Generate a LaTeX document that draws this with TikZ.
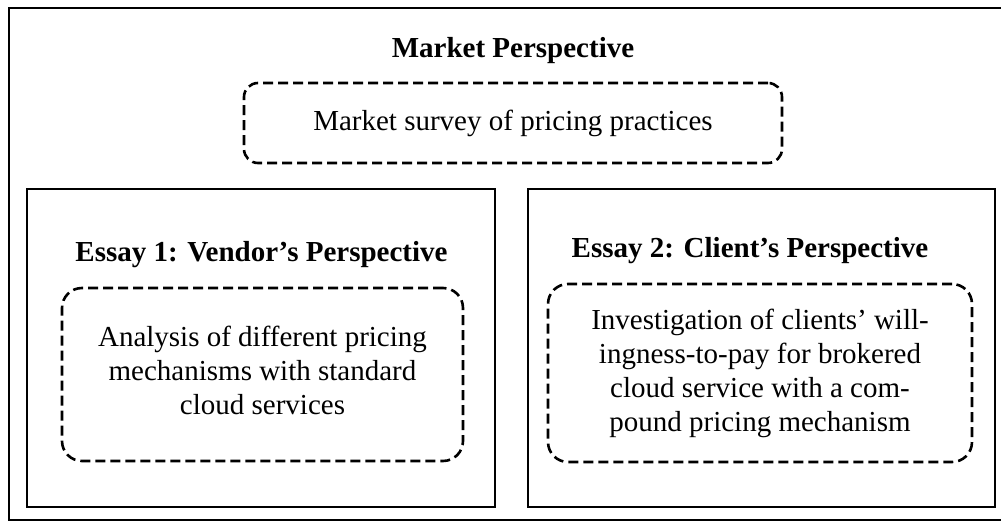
\documentclass[tikz,border=0pt]{standalone}
\usepackage{fontspec}
\setmainfont{Liberation Serif}
\begin{document}
\begin{tikzpicture}[x=1pt,y=-1pt,
  solidbox/.style={draw, line width=2.8pt, inner sep=0pt, outer sep=0pt},
  dashbox/.style={draw, line width=2.6pt, dash pattern=on 10pt off 5pt, inner sep=0pt, outer sep=0pt},
  titletext/.style={font=\fontsize{29}{33}\selectfont\bfseries, anchor=base, inner sep=0pt},
  bodytext/.style={font=\fontsize{29}{34}\selectfont, align=center, inner sep=0pt}]
\useasboundingbox (0,0) rectangle (1001,525);
% outer frame
\node[solidbox, minimum width=994pt, minimum height=512pt] (outer) at (506,264) {};
% market perspective
\node[titletext] (mtitle) at (513,57) {Market Perspective};
\node[dashbox, rounded corners=14pt, minimum width=538pt, minimum height=80pt] (mbox) at (513,123) {};
\node[bodytext] (mtext) at (mbox.center) {Market survey of pricing practices};
% essay 1
\node[solidbox, minimum width=468pt, minimum height=318pt] (lbox) at (261,348) {};
\node[titletext] (ltitle) at (261.5,261) {Essay 1: Vendor's Perspective};
\node[dashbox, rounded corners=20pt, minimum width=401pt, minimum height=173pt] (ldash) at (262.5,374.5) {};
\node[bodytext] (ltext) at ([yshift=4pt]ldash.center) {Analysis of different pricing\\mechanisms with standard\\cloud services};
% essay 2
\node[solidbox, minimum width=467pt, minimum height=318pt] (rbox) at (761.5,348) {};
\node[titletext] (rtitle) at (750,257) {Essay 2: Client's Perspective};
\node[dashbox, rounded corners=20pt, minimum width=424pt, minimum height=178pt] (rdash) at (760,373) {};
\node[bodytext] (rtext) at (rdash.center) {Investigation of clients' will-\\ingness-to-pay for brokered\\cloud service with a com-\\pound pricing mechanism};
\end{tikzpicture}
\end{document}
